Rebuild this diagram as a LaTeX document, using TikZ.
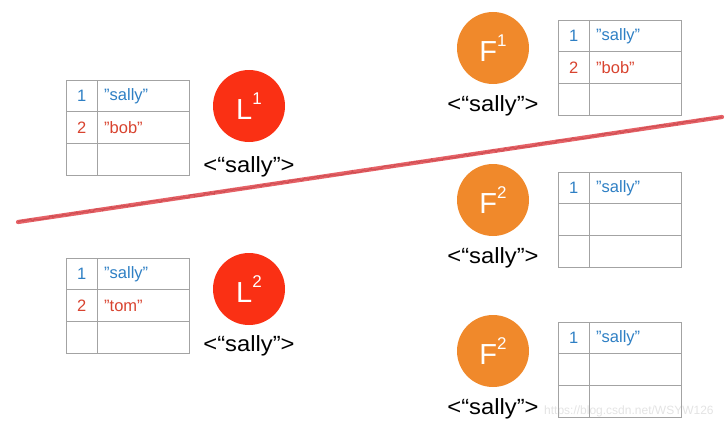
\documentclass[tikz,border=0pt]{standalone}
\usepackage{fontspec}
\setmainfont{Liberation Sans}
\usetikzlibrary{decorations.pathmorphing}
\definecolor{lred}{HTML}{FA3014}
\definecolor{forange}{HTML}{F0892B}
\definecolor{tblue}{HTML}{2E7FC4}
\definecolor{tred}{HTML}{D8432F}
\definecolor{tline}{HTML}{A3A3A3}
\definecolor{pencil}{HTML}{E2464C}
\tikzset{
  tabline/.style={draw=tline, line width=0.9pt},
  numtxt/.style={inner sep=0pt, font=\fontsize{16.5}{16.5}\selectfont},
  valtxt/.style={inner sep=0pt, anchor=west, font=\fontsize{16.5}{16.5}\selectfont},
  lcirc/.style={circle, fill=lred, minimum size=72pt, inner sep=0pt, text=white, font=\fontsize{29}{29}\selectfont},
  fcirc/.style={circle, fill=forange, minimum size=72pt, inner sep=0pt, text=white, font=\fontsize{29}{29}\selectfont},
  lbl/.style={inner sep=0pt, xscale=1.08, font=\fontsize{22}{22}\selectfont},
}
\newcommand\sps[1]{\raisebox{0.5em}{\fontsize{17}{17}\selectfont #1}}
\newcommand\qq[1]{\symbol{34}#1\symbol{34}}
\newcommand\dtab[8]{%
  \begin{scope}[shift={(#2,#3)}]
    \draw[tabline] (0,0) rectangle (123,95);
    \draw[tabline] (0,31.7) -- (123,31.7) (0,63.3) -- (123,63.3) (31.5,0) -- (31.5,95);
    \node[numtxt, text=tblue] (#1n1) at (15.7,16) {#4};
    \node[valtxt, text=tblue] (#1v1) at (38,16) {#5};
    \node[numtxt, text=tred] (#1n2) at (15.7,47.5) {#6};
    \node[valtxt, text=tred] (#1v2) at (38,47.5) {#7};
  \end{scope}}
\begin{document}
\begin{tikzpicture}[x=1pt, y=-1pt]
\useasboundingbox (0,0) rectangle (728,436);
% watermark
\node[inner sep=0pt, anchor=west, text=gray!22, font=\fontsize{12}{12}\selectfont] (wm) at (544,411) {https://blog.csdn.net/WSYW126};
% tables
\dtab{tl}{66}{80}{1}{\qq{sally}}{2}{\qq{bob}}{}
\dtab{tm}{66}{258}{1}{\qq{sally}}{2}{\qq{tom}}{}
\dtab{tf}{558}{20}{1}{\qq{sally}}{2}{\qq{bob}}{}
\dtab{ts}{558}{172}{1}{\qq{sally}}{}{}{}
\dtab{tt}{558}{322}{1}{\qq{sally}}{}{}{}
% circles
\node[lcirc] (L1) at (249,106) {L\sps{1}};
\node[lcirc] (L2) at (249,289) {L\sps{2}};
\node[fcirc] (F1) at (493,48) {F\sps{1}};
\node[fcirc] (F2) at (493,200) {F\sps{2}};
\node[fcirc] (F3) at (493,351) {F\sps{2}};
% labels
\node[lbl] (L1l) at (249,167) {<“sally”>};
\node[lbl] (L2l) at (249,346) {<“sally”>};
\node[lbl] (F1l) at (493,106) {<“sally”>};
\node[lbl] (F2l) at (493,258) {<“sally”>};
\node[lbl] (F3l) at (493,409) {<“sally”>};
% partition line
\coordinate (pa) at (18,222);
\coordinate (pb) at (722,117);
\draw[pencil, line width=4.2pt, opacity=0.85, line cap=round] (pa) -- (pb);
\draw[pencil!80!black, line width=1.2pt, opacity=0.45, decorate, decoration={random steps, segment length=2pt, amplitude=1.3pt}] (pa) -- (pb);
\end{tikzpicture}
\end{document}
